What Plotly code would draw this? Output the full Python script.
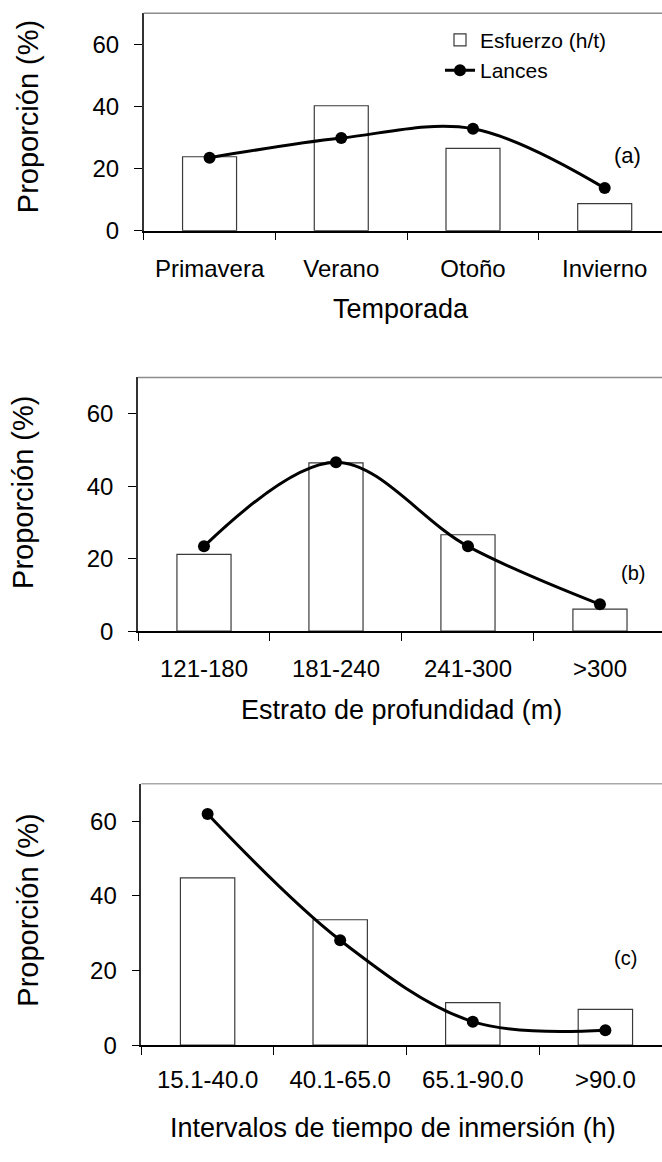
import plotly.graph_objects as go

# Season panel (a)
temporadas = ["Primavera", "Verano", "Otoño", "Invierno"]
esfuerzo_temp = [23.8, 40.2, 26.5, 8.7]
lances_temp = [23.5, 29.8, 32.8, 13.7]

# Depth stratum panel (b)
estratos = ["121-180", "181-240", "241-300", ">300"]
esfuerzo_prof = [21.2, 46.4, 26.6, 6.1]
lances_prof = [23.4, 46.6, 23.4, 7.4]

# Soak-time interval panel (c)
intervalos = ["15.1-40.0", "40.1-65.0", "65.1-90.0", ">90.0"]
esfuerzo_inm = [44.8, 33.6, 11.4, 9.6]
lances_inm = [61.9, 28.1, 6.3, 4.0]

y_ticks = [0, 20, 40, 60]

W, H = 662, 1162
FONT = "Liberation Sans, Arial, Helvetica, sans-serif"


def px(x):
    return x / W


def py(y):
    return 1 - y / H


panels = [
    dict(cats=temporadas, bars=esfuerzo_temp, line=lances_temp, title="Temporada",
         left=143.7, top=13.3, bottom=233.3, xmax=3.435, tag="(a)", tag_xy=(627, 157.5), tag_size=22,
         ytitle_xy=(27.5, 118), xtitle_xy=(401, 312), top_col="#8c8c8c", standoff=16),
    dict(cats=estratos, bars=esfuerzo_prof, line=lances_prof, title="Estrato de profundidad (m)",
         left=138.0, top=381.7, bottom=638.3, xmax=3.47, tag="(b)", tag_xy=(633, 579), tag_size=20,
         ytitle_xy=(23.5, 498), xtitle_xy=(401.7, 718), top_col="#8c8c8c", standoff=15),
    dict(cats=intervalos, bars=esfuerzo_inm, line=lances_inm, title="Intervalos de tiempo de inmersión (h)",
         left=141.3, top=792.7, bottom=1057.0, xmax=3.427, tag="(c)", tag_xy=(625.5, 968.5), tag_size=20,
         ytitle_xy=(28, 921), xtitle_xy=(393.3, 1141), top_col="#a8a8a8", standoff=12),
]

fig = go.Figure()
annotations = []
shapes = []

for i, p in enumerate(panels):
    n = "" if i == 0 else str(i + 1)
    xa, ya = "x" + n, "y" + n
    first = i == 0

    fig.add_trace(go.Bar(
        x=p["cats"], y=p["bars"], xaxis=xa, yaxis=ya, width=0.41,
        marker=dict(color="white", line=dict(color="#3a3a3a", width=1.2)),
        name="Esfuerzo (h/t)", showlegend=first, legendrank=1,
    ))
    fig.add_trace(go.Scatter(
        x=p["cats"], y=p["line"], xaxis=xa, yaxis=ya, mode="lines+markers",
        line=dict(color="black", width=3, shape="spline", smoothing=1.0),
        marker=dict(color="black", size=12),
        name="Lances", showlegend=first, legendrank=2,
    ))

    fig.update_layout(**{
        "xaxis" + n: dict(
            domain=[px(p["left"]), 1], anchor=ya, type="category",
            range=[-0.5, p["xmax"]], showline=True, linecolor="black", linewidth=1.5,
            ticks="outside", tickson="boundaries", ticklen=8, tickcolor="black", tickwidth=1.3,
            showgrid=False, zeroline=False, ticklabelstandoff=p["standoff"],
            tickfont=dict(family=FONT, size=24, color="black"),
        ),
        "yaxis" + n: dict(
            domain=[py(p["bottom"]), py(p["top"])], anchor=xa, range=[0, 70],
            tickvals=y_ticks, showline=True, linecolor="#333333", linewidth=1.5,
            ticks="outside", ticklen=8, tickcolor="black", tickwidth=1.3,
            showgrid=False, zeroline=False, ticklabelstandoff=10,
            tickfont=dict(family=FONT, size=24, color="black"),
        ),
    })

    # frame line along the top of the plotting area
    shapes.append(dict(type="line", xref=xa + " domain", yref=ya + " domain",
                       x0=0, x1=1, y0=1, y1=1, line=dict(color=p["top_col"], width=1.5)))

    annotations.append(dict(text=p["tag"], xref="paper", yref="paper",
                            x=px(p["tag_xy"][0]), y=py(p["tag_xy"][1]),
                            xanchor="center", yanchor="middle", showarrow=False,
                            font=dict(family=FONT, size=p["tag_size"], color="black")))
    annotations.append(dict(text="Proporción (%)", xref="paper", yref="paper",
                            x=px(p["ytitle_xy"][0]), y=py(p["ytitle_xy"][1]), textangle=-90,
                            xanchor="center", yanchor="middle", showarrow=False,
                            font=dict(family=FONT, size=29, color="black")))
    annotations.append(dict(text=p["title"], xref="paper", yref="paper",
                            x=px(p["xtitle_xy"][0]), y=py(p["xtitle_xy"][1]),
                            xanchor="center", yanchor="middle", showarrow=False,
                            font=dict(family=FONT, size=27, color="black")))

fig.update_layout(
    width=W, height=H,
    margin=dict(l=0, r=0, t=0, b=0),
    paper_bgcolor="white", plot_bgcolor="white",
    barmode="overlay",
    showlegend=True,
    legend=dict(x=px(440), y=py(20), xanchor="left", yanchor="top",
                bgcolor="rgba(0,0,0,0)", borderwidth=0, traceorder="normal",
                font=dict(family=FONT, size=21, color="black"), itemwidth=30),
    annotations=annotations,
    shapes=shapes,
)

fig.write_html("out.html", config={"displayModeBar": False})
